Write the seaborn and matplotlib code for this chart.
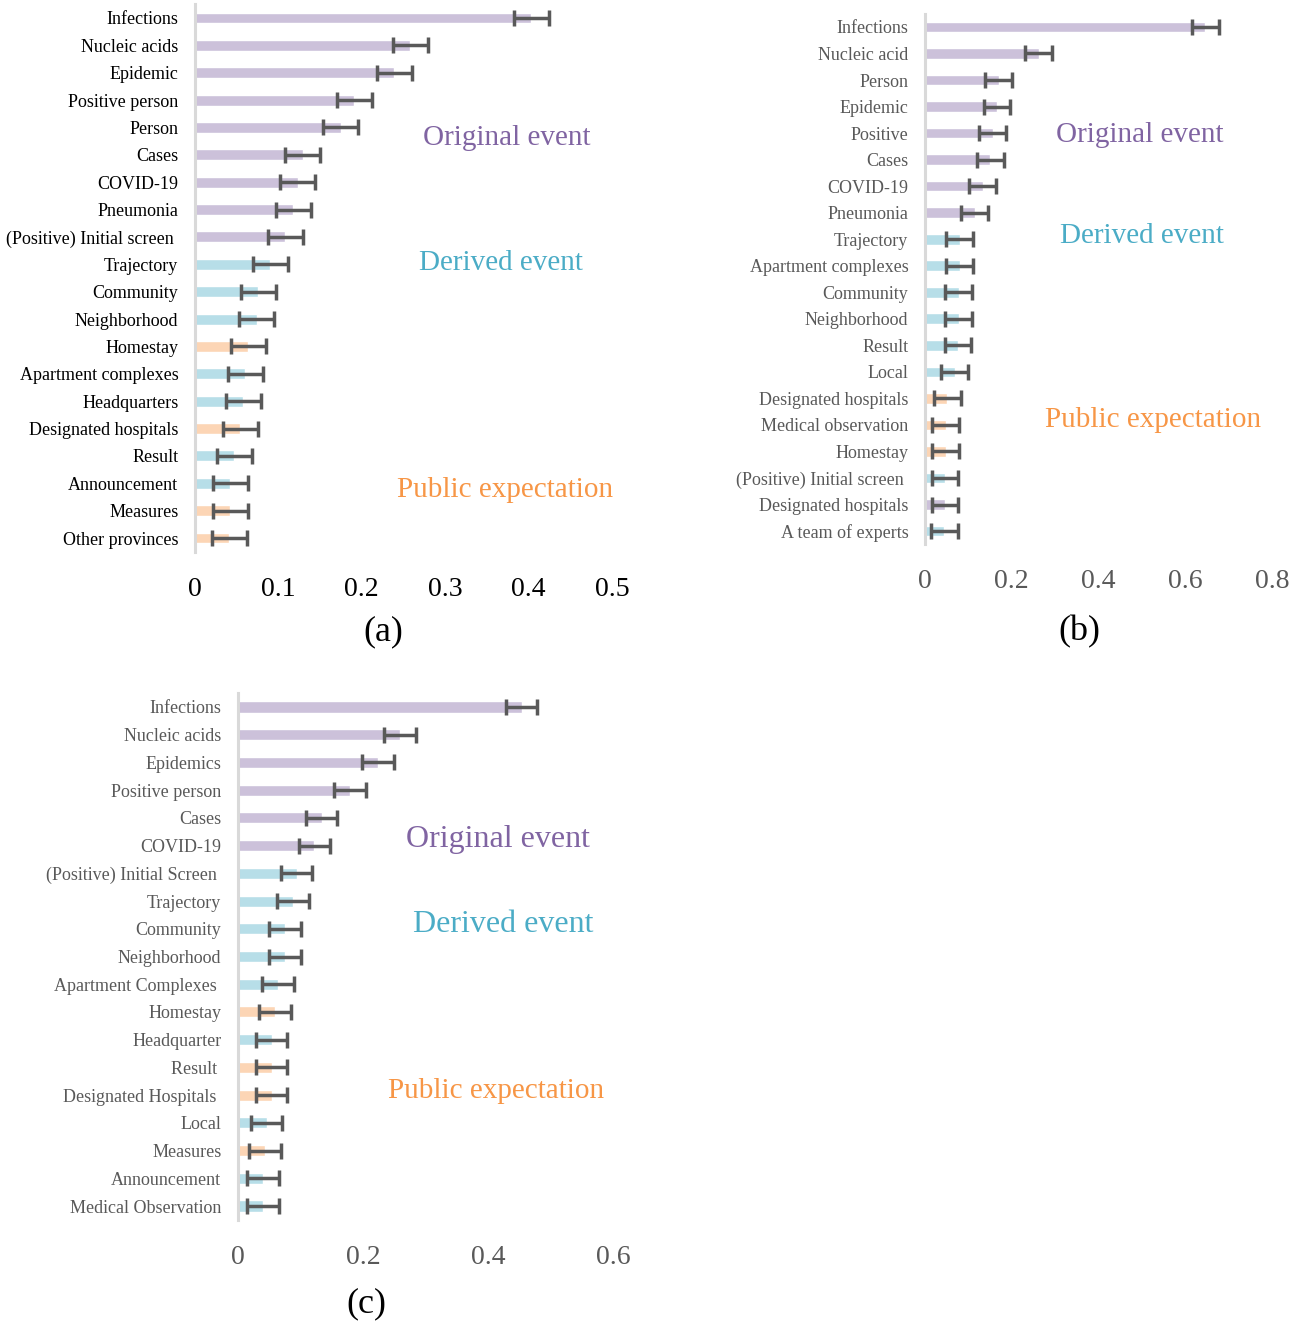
import pandas as pd
import matplotlib
matplotlib.use("Agg")
import matplotlib.pyplot as plt
import seaborn as sns

# ---- data ----
labels_a = ["Infections", "Nucleic acids", "Epidemic", "Positive person", "Person", "Cases",
            "COVID-19", "Pneumonia", "(Positive) Initial screen ", "Trajectory", "Community",
            "Neighborhood", "Homestay", "Apartment complexes", "Headquarters",
            "Designated hospitals", "Result", "Announcement", "Measures", "Other provinces"]
values_a = [0.403, 0.258, 0.239, 0.191, 0.175, 0.129, 0.123, 0.118, 0.108, 0.090,
            0.076, 0.074, 0.064, 0.060, 0.058, 0.054, 0.047, 0.042, 0.042, 0.041]
errors_a = [0.021, 0.021, 0.021, 0.021, 0.021, 0.021, 0.021, 0.021, 0.021, 0.021,
            0.021, 0.021, 0.021, 0.021, 0.021, 0.021, 0.021, 0.021, 0.021, 0.021]
groups_a = ["O", "O", "O", "O", "O", "O", "O", "O", "O", "D",
            "D", "D", "P", "D", "D", "P", "D", "D", "P", "P"]

labels_b = ["Infections", "Nucleic acid", "Person", "Epidemic", "Positive", "Cases",
            "COVID-19", "Pneumonia", "Trajectory", "Apartment complexes", "Community",
            "Neighborhood", "Result", "Local", "Designated hospitals", "Medical observation",
            "Homestay", "(Positive) Initial screen ", "Designated hospitals", "A team of experts"]
values_b = [0.646, 0.262, 0.170, 0.166, 0.156, 0.150, 0.133, 0.115, 0.080, 0.080,
            0.078, 0.078, 0.076, 0.069, 0.051, 0.048, 0.048, 0.046, 0.046, 0.044]
errors_b = [0.031, 0.031, 0.031, 0.031, 0.031, 0.031, 0.031, 0.031, 0.031, 0.031,
            0.031, 0.031, 0.031, 0.031, 0.031, 0.031, 0.031, 0.031, 0.031, 0.031]
groups_b = ["O", "O", "O", "O", "O", "O", "O", "O", "D", "D",
            "D", "D", "D", "D", "P", "P", "P", "D", "O", "D"]

labels_c = ["Infections", "Nucleic acids", "Epidemics", "Positive person", "Cases", "COVID-19",
            "(Positive) Initial Screen ", "Trajectory", "Community", "Neighborhood",
            "Apartment Complexes ", "Homestay", "Headquarter", "Result ",
            "Designated Hospitals ", "Local", "Measures", "Announcement", "Medical Observation"]
values_c = [0.454, 0.259, 0.224, 0.179, 0.134, 0.122, 0.094, 0.088, 0.075, 0.075,
            0.064, 0.059, 0.054, 0.054, 0.054, 0.046, 0.043, 0.040, 0.040]
errors_c = [0.025, 0.025, 0.025, 0.025, 0.025, 0.025, 0.025, 0.025, 0.025, 0.025,
            0.025, 0.025, 0.025, 0.025, 0.025, 0.025, 0.025, 0.025, 0.025]
groups_c = ["O", "O", "O", "O", "O", "O", "D", "D", "D", "D",
            "D", "P", "D", "P", "P", "D", "P", "D", "D"]

xticks_a = [0, 0.1, 0.2, 0.3, 0.4, 0.5]
xticks_b = [0, 0.2, 0.4, 0.6, 0.8]
xticks_c = [0, 0.2, 0.4, 0.6]

bar_colors = {"O": "#CCC1DA", "D": "#B7DEE8", "P": "#FCD5B5"}
text_colors = {"O": "#8064A2", "D": "#4BACC6", "P": "#F79646"}
group_names = {"O": "Original event", "D": "Derived event", "P": "Public expectation"}

W, H = 1309, 1324

sns.set_style("white")
plt.rcParams['font.family'] = ['Liberation Serif', 'DejaVu Serif']

fig = plt.figure(figsize=(W / 100, H / 100), dpi=100)


def px_box(left, right, top, bottom):
    return [left / W, 1 - bottom / H, (right - left) / W, (bottom - top) / H]


def draw_panel(ax, labels, values, errors, groups, xticks, label_color):
    df = pd.DataFrame({"pos": list(range(len(labels))), "value": values, "group": groups})
    sns.barplot(data=df, x="value", y="pos", hue="group", palette=bar_colors,
                dodge=False, width=0.4, orient="h", legend=False, ax=ax,
                errorbar=None, saturation=1)
    ax.errorbar(values, list(range(len(labels))), xerr=errors, fmt="none",
                ecolor="#595959", elinewidth=2.5, capsize=6, capthick=2.5)
    ax.set_yticks(list(range(len(labels))))
    ax.set_yticklabels(labels, fontsize=13, color=label_color)
    ax.set_xticks(xticks)
    ax.set_xticklabels([("%g" % t) for t in xticks], fontsize=20, color=label_color)
    ax.set_xlim(xticks[0], xticks[-1])
    ax.set_ylim(len(labels) - 0.5, -0.5)
    ax.tick_params(axis="both", length=0)
    ax.tick_params(axis="y", pad=12)
    ax.tick_params(axis="x", pad=18)
    ax.set_xlabel("")
    ax.set_ylabel("")
    for s in ["top", "right", "bottom"]:
        ax.spines[s].set_visible(False)
    ax.spines["left"].set_color("#D9D9D9")
    ax.spines["left"].set_linewidth(2.2)
    ax.grid(False)


def ftext(x, y, s, color, size):
    fig.text(x / W, 1 - y / H, s, color=color, fontsize=size, ha="center", va="center")


ax_a = fig.add_axes(px_box(195, 612, 4.3, 551.7))
draw_panel(ax_a, labels_a, values_a, errors_a, groups_a, xticks_a, "black")
ax_b = fig.add_axes(px_box(925, 1272, 13.7, 544.3))
draw_panel(ax_b, labels_b, values_b, errors_b, groups_b, xticks_b, "#595959")
ax_c = fig.add_axes(px_box(238, 613, 693.1, 1219.9))
draw_panel(ax_c, labels_c, values_c, errors_c, groups_c, xticks_c, "#595959")

# group annotations
ftext(507, 138, group_names["O"], text_colors["O"], 21)
ftext(501, 263, group_names["D"], text_colors["D"], 21)
ftext(505, 490, group_names["P"], text_colors["P"], 21)
ftext(1140, 135, group_names["O"], text_colors["O"], 21)
ftext(1142, 236, group_names["D"], text_colors["D"], 21)
ftext(1153, 420, group_names["P"], text_colors["P"], 21)
ftext(498, 840, group_names["O"], text_colors["O"], 23)
ftext(503, 925, group_names["D"], text_colors["D"], 23)
ftext(496, 1091, group_names["P"], text_colors["P"], 21)

# panel letters
ftext(383, 632, "(a)", "black", 26)
ftext(1079, 632, "(b)", "black", 26)
ftext(366, 1304, "(c)", "black", 26)

fig.savefig("out.png", dpi=100, facecolor="white")
